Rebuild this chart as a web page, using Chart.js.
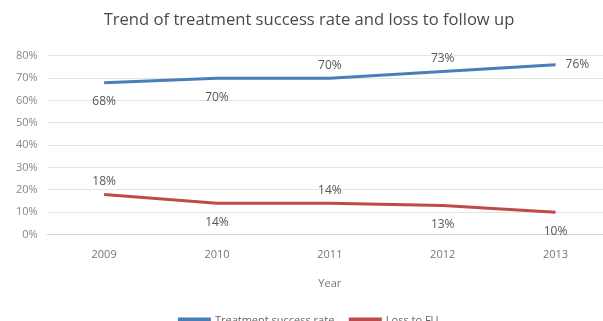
<!DOCTYPE html>
<html>
<head>
<meta charset="utf-8">
<script src="https://cdn.jsdelivr.net/npm/chart.js@4"></script>
<style>
  html, body { margin: 0; padding: 0; background: #fff; overflow: hidden; }
  #wrap { width: 612px; height: 336px; }
</style>
</head>
<body>
<div id="wrap"><canvas id="trendChart"></canvas></div>
<script>
const years = ['2009', '2010', '2011', '2012', '2013'];
const successRate = [68, 70, 70, 73, 76];
const lossToFU = [18, 14, 14, 13, 10];
// label placement per point
const successLabelPos = ['below', 'below', 'above', 'above', 'right'];
const lossLabelPos = ['above', 'below', 'above', 'below', 'below'];

const pointLabels = {
    id: 'pointLabels',
    afterDatasetsDraw(chart) {
        const ctx = chart.ctx;
        const places = [successLabelPos, lossLabelPos];
        ctx.save();
        ctx.font = '12px "Open Sans", sans-serif';
        ctx.fillStyle = '#555';
        ctx.textBaseline = 'middle';
        chart.data.datasets.forEach((ds, i) => {
            chart.getDatasetMeta(i).data.forEach((pt, j) => {
                const txt = ds.data[j] + '%';
                const where = places[i][j];
                let x = pt.x, y = pt.y;
                ctx.textAlign = 'center';
                if (where === 'above') y -= 13;
                else if (where === 'below') y += 19;
                else { ctx.textAlign = 'left'; x += 10; }
                ctx.fillText(txt, x, y);
            });
        });
        ctx.restore();
    }
};

new Chart(document.getElementById('trendChart'), {
    type: 'line',
    data: {
        labels: years,
        datasets: [{
            label: 'Treatment success rate',
            data: successRate,
            borderColor: '#4a7ebb',
            backgroundColor: '#4a7ebb',
            borderWidth: 3,
            pointRadius: 0,
            tension: 0
        }, {
            label: 'Loss to FU',
            data: lossToFU,
            borderColor: '#be4b48',
            backgroundColor: '#be4b48',
            borderWidth: 3,
            pointRadius: 0,
            tension: 0
        }]
    },
    options: {
        responsive: true,
        maintainAspectRatio: false,
        animation: false,
        layout: { padding: { left: 6, right: 0, top: 4, bottom: 0 } },
        scales: {
            x: {
                offset: true,
                grid: { display: false, drawTicks: false },
                border: { color: '#d0d0d0' },
                ticks: { color: '#777', font: { family: 'Open Sans', size: 11 }, padding: 14 },
                title: { display: true, text: 'Year', color: '#777', font: { family: 'Open Sans', size: 11 }, padding: { top: 1, bottom: 9 } }
            },
            y: {
                min: 0,
                max: 80,
                grid: { color: '#e4e4e4', drawTicks: false },
                border: { display: false },
                ticks: { stepSize: 10, color: '#888', font: { family: 'Open Sans', size: 11 }, padding: 10,
                    callback: v => v + '%' }
            }
        },
        plugins: {
            title: {
                display: true,
                text: 'Trend of treatment success rate and loss to follow up',
                color: '#4a4a4a',
                font: { family: 'Open Sans', size: 16.6, weight: 'normal' },
                padding: { top: 6, bottom: 26 }
            },
            legend: {
                position: 'bottom',
                labels: { boxWidth: 30, boxHeight: 3, color: '#666', font: { family: 'Open Sans', size: 11 }, padding: 16 }
            },
            tooltip: { enabled: false }
        }
    },
    plugins: [pointLabels]
});
</script>
</body>
</html>
